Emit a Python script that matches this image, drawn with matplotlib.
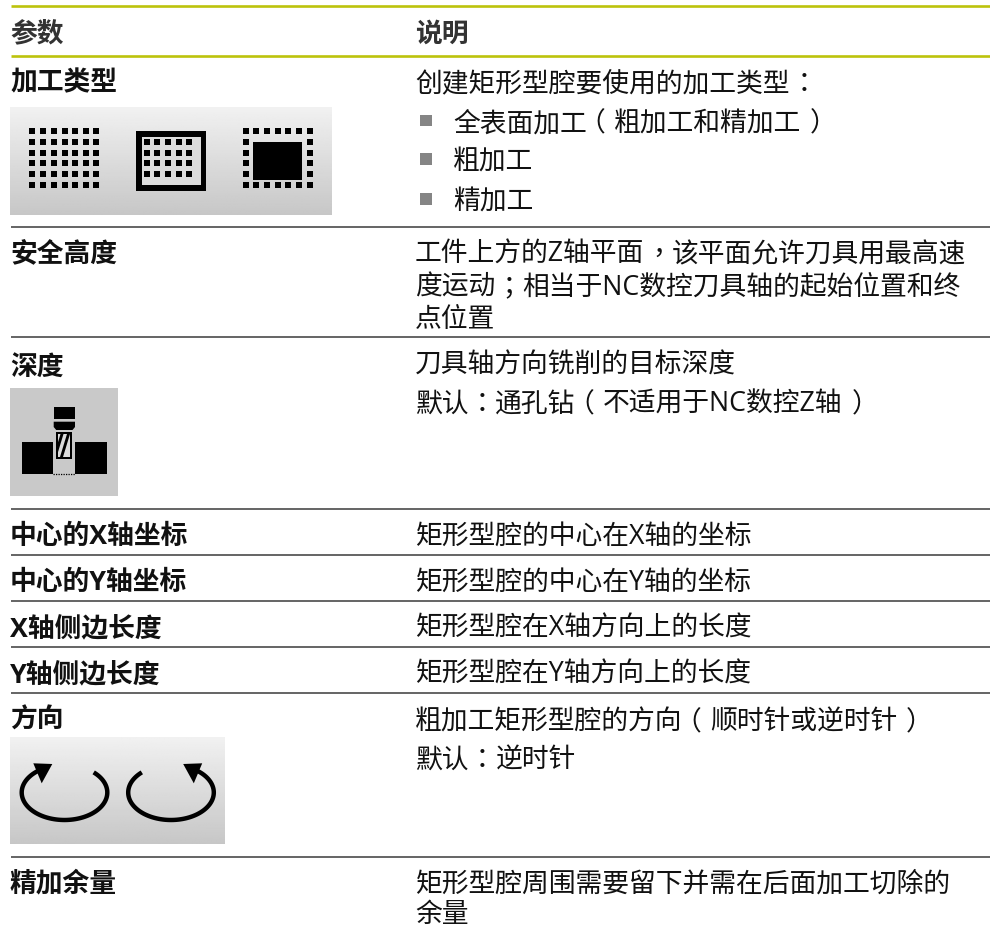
import numpy
from matplotlib import pyplot as plt
from matplotlib import font_manager as fm
from matplotlib.ft2font import LoadFlags
from matplotlib.patches import Rectangle, Polygon

FAMILIES = ['Open Sans', 'Noto Sans CJK SC', 'DejaVu Sans']
plt.rcParams['font.family'] = FAMILIES

col_titles  = ['参数', '说明']
param_names = ['加工类型', '安全高度', '深度', '中心的X轴坐标', '中心的Y轴坐标',
               'X轴侧边长度', 'Y轴侧边长度', '方向', '精加余量']
desc_lines  = ['创建矩形型腔要使用的加工类型：',
               '工件上方的Z轴平面，该平面允许刀具用最高速',
               '度运动；相当于NC数控刀具轴的起始位置和终',
               '点位置',
               '刀具轴方向铣削的目标深度',
               '默认：通孔钻（不适用于NC数控Z轴）',
               '矩形型腔的中心在X轴的坐标',
               '矩形型腔的中心在Y轴的坐标',
               '矩形型腔在X轴方向上的长度',
               '矩形型腔在Y轴方向上的长度',
               '粗加工矩形型腔的方向（顺时针或逆时针）',
               '默认：逆时针',
               '矩形型腔周围需要留下并需在后面加工切除的',
               '余量']
bullet_items = ['全表面加工（粗加工和精加工）', '粗加工', '精加工']

# pixel layout of the page
param_y  = [80.7, 252, 365, 534, 580, 626, 672, 718, 881]
desc_y   = [81.7, 252, 285, 317, 363, 402, 534, 580, 626, 672, 720, 758, 881.7, 912]
bullet_y = [121.7, 160, 200]
rule_y   = [228, 338.3, 510, 555.7, 602, 647.7, 693.7, 857.7]
green_y  = [7, 56.5]
LEFT     = 10
RIGHT    = 415
FS       = 19.3
EM       = FS*100/72
PUNCT    = '，；：（）'

# traditional cut of the font has its punctuation centred in the cell
punct_font = fm.get_font(fm.findfont(fm.FontProperties(family='Noto Sans CJK TC')))
latin_font = fm.get_font(fm.findfont(fm.FontProperties(family='Open Sans')))
punct_font.set_size(100, 72)
latin_font.set_size(100, 72)

fig = plt.figure(figsize=(9.9, 9.28), dpi=100)
ax  = fig.add_axes([0, 0, 1, 1])


def write(x, yc, s, **kw):
    ax.text(x, yc+10, s, fontsize=FS, va='baseline', ha='left', **kw)


def run_width(s):
    wid = 0
    for ch in s:
        if ord(ch) < 128:
            glyph = latin_font.load_char(ord(ch), flags=LoadFlags.NO_HINTING)
            wid   = wid + glyph.linearHoriAdvance/65536/100*EM
        else:
            wid   = wid + EM
    return wid


def write_line(x, yc, s, **kw):
    run = ''
    for ch in s:
        if ch in PUNCT:
            if run:
                write(x, yc, run, **kw)
                x   = x + run_width(run)
                run = ''
            glyph = punct_font.load_char(ord(ch), flags=LoadFlags.NO_HINTING)
            ink   = (glyph.bbox[0]+glyph.bbox[2])/2/64/100*EM
            write(x+EM/2-ink, yc, ch, family=['Noto Sans CJK TC', 'DejaVu Sans'], **kw)
            x = x + EM
        else:
            run = run + ch
    if run:
        write(x, yc, run, **kw)


def box(x0, y0, x1, y1, color='k', z=3):
    ax.add_patch(Rectangle((x0, y0), x1-x0, y1-y0, fc=color, ec='none', zorder=z))


def gradient(x0, y0, x1, y1):
    ramp = numpy.linspace(0.945, 0.78, 100).reshape(100, 1)
    ax.imshow(ramp, extent=(x0, x1, y1, y0), cmap='gray', vmin=0, vmax=1,
              aspect='auto', zorder=1)


def dots(xs, ys, size=6):
    for x in xs:
        for y in ys:
            box(x-size/2, y-size/2, x+size/2, y+size/2)


def turn_arrow(cx, flip):
    t  = numpy.radians(numpy.linspace(-47, 240, 120))
    px = 42.8*numpy.cos(t)
    py = 793.5 + 27.5*numpy.sin(t)
    ax.plot(cx+flip*px, py, color='k', lw=3.2, solid_capstyle='butt', zorder=3)
    head = numpy.array([[-12.2, 765], [-31.2, 764.3], [-22.8, 784.3]])
    ax.add_patch(Polygon(numpy.c_[cx+flip*head[:, 0], head[:, 1]], fc='k', ec='none', zorder=4))


for yy in green_y:
    ax.plot([11, 990], [yy, yy], color='#bcc30c', lw=1.9, solid_capstyle='butt')
for yy in rule_y:
    ax.plot([11, 990], [yy, yy], color='#3a3a3a', lw=1.1, solid_capstyle='butt')

write(LEFT, 31.5, col_titles[0], fontweight='bold', color='#333333')
write(RIGHT, 31.5, col_titles[1], fontweight='bold', color='#333333')
for yy, name in zip(param_y, param_names):
    write(LEFT, yy, name, fontweight='bold', color='#111111')
for yy, line in zip(desc_y, desc_lines):
    write_line(RIGHT, yy, line, color='#111111')
for yy, item in zip(bullet_y, bullet_items):
    box(420, yy-6, 432, yy+5.5, color='#858585')
    write_line(453, yy, item, color='#111111')

# machining type icons
gradient(10, 108, 332, 216)
rows6 = [132, 143, 153.7, 164, 175, 186]
dots([32, 43, 54, 64.5, 75, 86, 96], rows6)
box(136, 132, 206, 191.5)
box(141.5, 137.5, 200.5, 186, color='#dcdcdc')
dots([147, 157, 168, 179, 189], [143, 154, 164, 175])
xs7 = [246, 256, 267, 278, 288, 299, 310]
dots(xs7, [rows6[0], rows6[-1]])
dots([xs7[0], xs7[-1]], rows6[1:-1])
box(253, 143, 302, 181)

# depth icon
box(10, 389, 118, 497, color='#c9c9c9', z=1)
box(53.7, 408.3, 75, 420)
ax.add_patch(Polygon([[53.7, 422.7], [75, 422.7], [75, 428], [72.5, 431], [56.2, 431], [53.7, 428]],
                     fc='k', ec='none', zorder=3))
box(56.3, 433.3, 72.3, 460)
window = Rectangle((58.3, 435.3), 12, 22.4, fc='#dcdcdc', ec='none', zorder=4)
ax.add_patch(window)
for x0 in [-3.5, 3]:
    stripe = Polygon([[57+x0, 458], [60+x0, 458], [67+x0, 435], [64+x0, 435]],
                     fc='k', ec='none', zorder=5)
    ax.add_patch(stripe)
    stripe.set_clip_path(window)
box(21.7, 443.3, 53.3, 475.3)
box(75, 443.3, 107, 475.3)
ax.plot([53.3, 75], [474.7, 474.7], color='k', lw=0.9, ls=(0, (1, 1)))

# direction icons
gradient(10, 738, 225, 845)
turn_arrow(64.5, 1)
turn_arrow(171, -1)

ax.set_xlim(0, 990)
ax.set_ylim(928, 0)
ax.axis('off')
fig.savefig('out.png', dpi=100)
